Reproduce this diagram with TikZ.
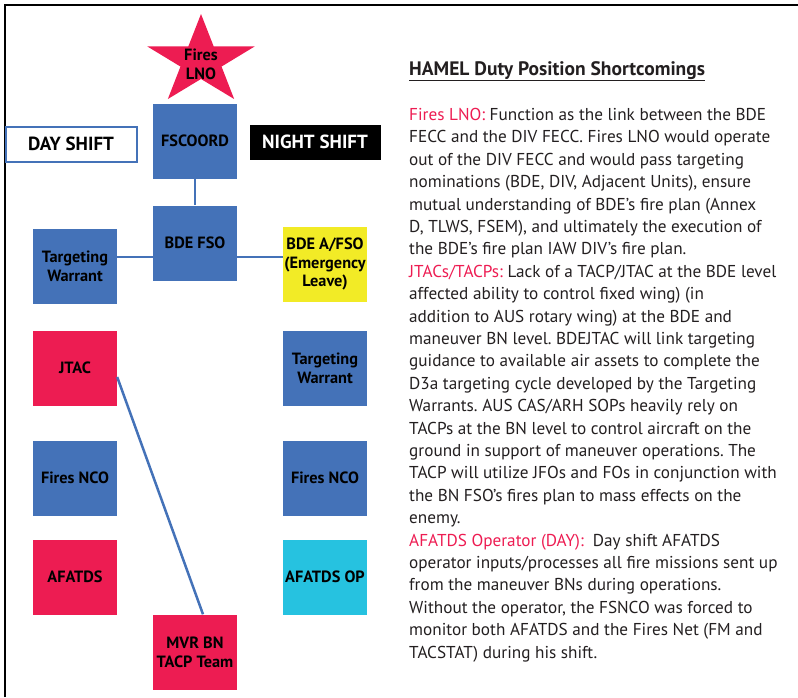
\documentclass[tikz,border=0pt]{standalone}
\usepackage{fontspec}
\setmainfont{PT Sans}
\frenchspacing
\definecolor{fsblue}{RGB}{68,114,184}
\definecolor{fsred}{RGB}{237,28,82}
\definecolor{fsyellow}{RGB}{242,235,38}
\definecolor{fscyan}{RGB}{38,194,224}
\definecolor{fstext}{RGB}{35,31,32}
\begin{document}
\begin{tikzpicture}[x=1pt,y=-1pt,
  box/.style={minimum width=84pt,minimum height=75pt,inner sep=1pt,align=center,
    font=\bfseries\fontsize{16.3}{18.8}\selectfont},
  bluebox/.style={box,fill=fsblue},
  redbox/.style={box,fill=fsred},
  shiftlbl/.style={minimum width=131pt,minimum height=35pt,inner sep=0pt,
    font=\bfseries\fontsize{19}{22}\selectfont},
  link/.style={draw=fsblue,line width=2.5pt}]
\useasboundingbox (0,0) rectangle (798,697);
\draw[line width=2pt] (4.5,697) -- (4.5,4.5) -- (798,4.5);
% star for the LNO
\fill[fsred,shift={(201,61)},xscale=1.2] (-90:47)
  \foreach \a in {-90,-18,54,126,198}{ -- (\a:47) -- (\a+36:18) } -- cycle;
\node[font=\bfseries\fontsize{16.3}{18.8}\selectfont,align=center] (lno) at (201,64) {Fires\\LNO};
% shift labels
\node[shiftlbl,draw=fsblue,line width=2pt] (day) at (71,144) {DAY SHIFT\hspace{10pt}};
\node[shiftlbl,fill=black,text=white] (night) at (315,142) {NIGHT SHIFT};
% positions
\node[bluebox] (fscoord) at (195,141) {FSCOORD};
\node[bluebox] (bdefso) at (195,243) {BDE FSO};
\node[bluebox] (twday) at (75,266) {Targeting\\Warrant};
\node[box,fill=fsyellow] (afso) at (325,264) {BDE A/FSO\\(Emergency\\Leave)};
\node[redbox] (jtac) at (75,368) {JTAC};
\node[bluebox] (twnight) at (325,368) {Targeting\\Warrant};
\node[bluebox] (ncoday) at (75,478) {Fires NCO};
\node[bluebox] (nconight) at (325,478) {Fires NCO};
\node[redbox] (afatds) at (75,577) {AFATDS};
\node[box,fill=fscyan] (afatdsop) at (325,577) {AFATDS OP};
\node[redbox] (tacp) at (195,652) {MVR BN\\TACP Team};
% links
\draw[link] (fscoord) -- (bdefso);
\draw[link] (bdefso.west |- 0,257) -- (twday.east |- 0,257);
\draw[link] (bdefso.east |- 0,257) -- (afso.west |- 0,257);
\draw[link] (jtac.east |- 0,377) -- (tacp.north -| 203,0);
% notes
\node[anchor=base west,inner sep=0pt,text=fstext,font=\fontsize{19.5}{22}\selectfont] (title) at (409,75)
  {\underline{\textbf{HAMEL Duty Position Shortcomings}}};
\node[anchor=north west,inner sep=0pt,align=left,text=fstext,font=\fontsize{17.2}{22.4}\selectfont] (notes) at (409,108)
  {\textcolor{fsred}{Fires LNO:} Function as the link between the BDE\\
   FECC and the DIV FECC. Fires LNO would operate\\
   out of the DIV FECC and would pass targeting\\
   nominations (BDE, DIV, Adjacent Units), ensure\\
   mutual understanding of BDE’s fire plan (Annex\\
   D, TLWS, FSEM), and ultimately the execution of\\
   the BDE’s fire plan IAW DIV’s fire plan.\\
   \textcolor{fsred}{JTACs/TACPs:} Lack of a TACP/JTAC at the BDE level\\
   affected ability to control fixed wing) (in\\
   addition to AUS rotary wing) at the BDE and\\
   maneuver BN level. BDEJTAC will link targeting\\
   guidance to available air assets to complete the\\
   D3a targeting cycle developed by the Targeting\\
   Warrants. AUS CAS/ARH SOPs heavily rely on\\
   TACPs at the BN level to control aircraft on the\\
   ground in support of maneuver operations. The\\
   TACP will utilize JFOs and FOs in conjunction with\\
   the BN FSO’s fires plan to mass effects on the\\
   enemy.\\
   \textcolor{fsred}{AFATDS Operator (DAY):}\ \ Day shift AFATDS\\
   operator inputs/processes all fire missions sent up\\
   from the maneuver BNs during operations.\\
   Without the operator, the FSNCO was forced to\\
   monitor both AFATDS and the Fires Net (FM and\\
   TACSTAT) during his shift.};
\end{tikzpicture}
\end{document}
